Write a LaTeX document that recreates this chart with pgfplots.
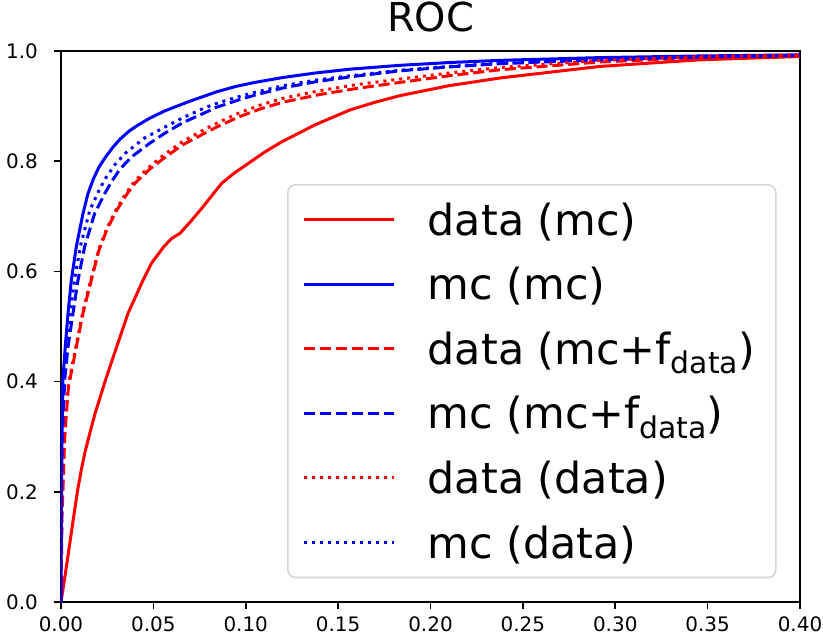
\documentclass[border=0pt]{standalone}
\usepackage{pgfplots}
\pgfplotsset{compat=1.18}
\usepackage{fontspec}
\setmainfont{DejaVu Sans}
\definecolor{mplred}{rgb}{1,0,0}
\definecolor{mplblue}{rgb}{0,0,1}
\newcommand{\sub}[1]{\raisebox{-9.5bp}{\fontsize{30}{32}\selectfont #1}}
\begin{document}
\begin{tikzpicture}
\begin{axis}[
  at={(0,0)}, anchor=south west,
  scale only axis, width=739bp, height=551bp,
  xmin=0, xmax=0.4, ymin=0, ymax=1,
  xtick={0,0.05,0.1,0.15,0.2,0.25,0.3,0.35,0.4},
  xticklabels={0.00,0.05,0.10,0.15,0.20,0.25,0.30,0.35,0.40},
  ytick={0,0.2,0.4,0.6,0.8,1},
  yticklabels={0.0,0.2,0.4,0.6,0.8,1.0},
  /pgf/number format/assume math mode=true,
  tick label style={font=\fontsize{20}{24}\selectfont, inner sep=0pt},
  xticklabel style={yshift=-8bp},
  yticklabel style={xshift=-16bp},
  tick align=outside, xtick pos=left, ytick pos=left,
  major tick length=7bp,
  every tick/.style={black, line width=1.6bp},
  axis line style={line width=1.6bp},
  title={ROC},
  title style={font=\fontsize{40}{44}\selectfont, at={(0.5,1)}, anchor=base, inner sep=0pt, yshift=14bp},
  legend cell align=left,
  legend style={at={(0.3058,0.7586)}, anchor=north west,
    draw=black!16, line width=1.6bp, fill=white, rounded corners=8bp,
    inner xsep=15bp, inner ysep=18bp,
    font=\fontsize{43}{47}\selectfont,
    nodes={inner sep=0pt},
    column sep=32bp, row sep=30.5bp},
  legend image code/.code={\draw[#1, line width=3bp] (0bp,0bp) -- (90bp,0bp);},
  every axis plot/.append style={line width=3bp},
]
% data (mc)
\addplot[mplred, solid] coordinates {
(0,0) (0.0023,0.05) (0.0047,0.105) (0.007,0.158) (0.009,0.203) (0.011,0.24)
(0.013,0.272) (0.0155,0.305) (0.0185,0.343) (0.0218,0.378) (0.0238,0.40)
(0.0281,0.443) (0.0363,0.524) (0.0444,0.584) (0.049,0.615) (0.0557,0.645)
(0.06,0.660) (0.0644,0.669) (0.07,0.69) (0.0762,0.7145) (0.087,0.760)
(0.094,0.779) (0.1014,0.796) (0.11,0.816) (0.1194,0.835) (0.1375,0.866)
(0.1564,0.893) (0.17,0.907) (0.1835,0.919) (0.21,0.937) (0.2376,0.951)
(0.2917,0.972) (0.3459,0.984) (0.4,0.990)};
\addlegendentry{data (mc)}
% mc (mc)
\addplot[mplblue, solid] coordinates {
(0,0) (0.0002,0.15) (0.0005,0.3) (0.001,0.403) (0.0023,0.463) (0.0038,0.524)
(0.0056,0.584) (0.0083,0.645) (0.0119,0.705) (0.0145,0.74) (0.0173,0.766)
(0.0205,0.789) (0.0238,0.806) (0.028,0.825) (0.032,0.840) (0.037,0.855)
(0.0419,0.866) (0.048,0.878) (0.056,0.891) (0.069,0.908) (0.0843,0.926)
(0.095,0.936) (0.105,0.943) (0.1203,0.952) (0.1375,0.960) (0.1564,0.967)
(0.1835,0.974) (0.21,0.979) (0.2376,0.983) (0.2917,0.988) (0.3459,0.991) (0.4,0.993)};
\addlegendentry{mc (mc)}
% data (mc+f_data)
\addplot[mplred, dash pattern=on 11.1bp off 4.8bp] coordinates {
(0,0) (0.0005,0.15) (0.001,0.2) (0.002,0.3) (0.004,0.39) (0.0083,0.463)
(0.0119,0.524) (0.0164,0.584) (0.0205,0.638) (0.025,0.677) (0.03,0.71)
(0.035,0.737) (0.040,0.760) (0.0482,0.786) (0.0563,0.807) (0.066,0.830)
(0.0779,0.851) (0.0843,0.862) (0.096,0.880) (0.108,0.895) (0.12,0.907)
(0.14,0.921) (0.16,0.932) (0.1835,0.943) (0.21,0.955) (0.2376,0.966)
(0.2917,0.980) (0.3459,0.988) (0.4,0.992)};
\addlegendentry{data (mc+f\sub{data})\hspace*{6bp}}
% mc (mc+f_data)
\addplot[mplblue, dash pattern=on 11.1bp off 4.8bp] coordinates {
(0,0) (0.0003,0.2) (0.0008,0.3) (0.002,0.403) (0.0038,0.463) (0.0065,0.524)
(0.0092,0.584) (0.0128,0.645) (0.0182,0.705) (0.0238,0.742) (0.0272,0.762)
(0.032,0.786) (0.0383,0.808) (0.0482,0.833) (0.0563,0.851) (0.066,0.870)
(0.0779,0.888) (0.0843,0.898) (0.095,0.910) (0.105,0.920) (0.1203,0.933)
(0.1375,0.944) (0.1564,0.953) (0.1835,0.964) (0.21,0.971) (0.2376,0.977)
(0.2917,0.984) (0.3459,0.989) (0.4,0.992)};
\addlegendentry{mc (mc+f\sub{data})}
% data (data)
\addplot[mplred, dash pattern=on 3bp off 4.95bp] coordinates {
(0,0) (0.0005,0.16) (0.001,0.21) (0.002,0.31) (0.004,0.395) (0.0083,0.467)
(0.0119,0.528) (0.0164,0.588) (0.0205,0.641) (0.025,0.68) (0.03,0.713)
(0.035,0.741) (0.040,0.764) (0.0482,0.791) (0.0563,0.813) (0.066,0.836)
(0.0779,0.858) (0.0843,0.869) (0.096,0.887) (0.108,0.902) (0.12,0.914)
(0.14,0.928) (0.16,0.939) (0.1835,0.949) (0.21,0.960) (0.2376,0.970)
(0.2917,0.983) (0.3459,0.990) (0.4,0.993)};
\addlegendentry{data (data)}
% mc (data)
\addplot[mplblue, dash pattern=on 3bp off 4.95bp] coordinates {
(0,0) (0.0003,0.22) (0.0007,0.32) (0.0016,0.41) (0.003,0.47) (0.0052,0.53)
(0.0076,0.59) (0.0108,0.65) (0.0157,0.712) (0.021,0.75) (0.0245,0.771)
(0.029,0.793) (0.035,0.815) (0.0452,0.842) (0.0563,0.862) (0.066,0.879)
(0.0779,0.897) (0.0843,0.905) (0.095,0.916) (0.105,0.925) (0.1203,0.937)
(0.1375,0.947) (0.1564,0.955) (0.1835,0.965) (0.21,0.972) (0.2376,0.978)
(0.2917,0.985) (0.3459,0.989) (0.4,0.992)};
\addlegendentry{mc (data)}
\end{axis}
\pgfresetboundingbox
\path (-61bp,-35bp) rectangle (762bp,602bp);
\end{tikzpicture}
\end{document}
